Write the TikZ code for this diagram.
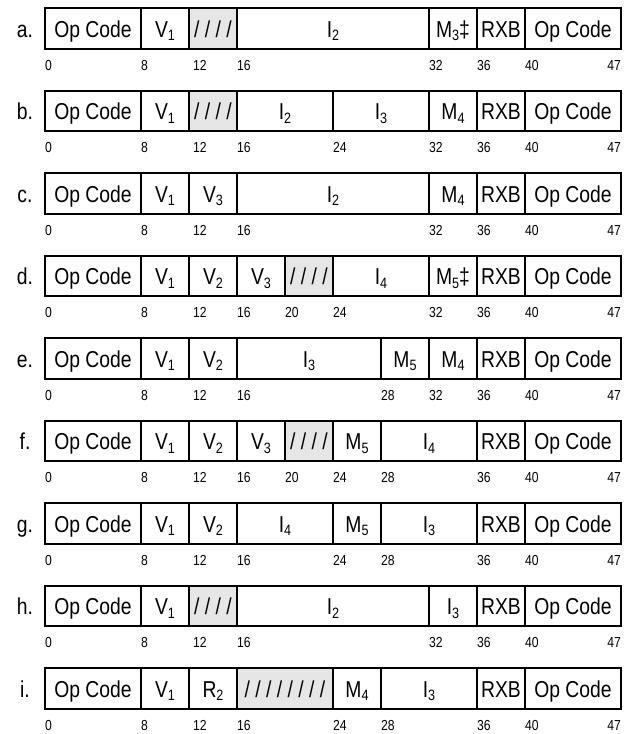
\documentclass[tikz,border=0pt]{standalone}
\usepackage{fontspec}
\setmainfont{Liberation Sans}[FakeStretch=0.84]
\newcommand\sbs[1]{\raisebox{-3.5pt}{\fontsize{15}{15}\selectfont #1}}
\definecolor{hatch}{HTML}{E6E6E6}
\tikzset{
  cellbox/.style={draw=black, line width=2pt, inner sep=0pt, outer sep=0pt, minimum height=40.3pt},
  lbl/.style={inner sep=0pt, font=\fontsize{23}{23}\selectfont, anchor=base},
  lettr/.style={inner sep=0pt, font=\fontsize{23}{23}\selectfont, anchor=base},
  bitnum/.style={inner sep=0pt, font=\fontsize{14.5}{14.5}\selectfont, anchor=base west},
}
\newcommand\bitrow[4]{%
  \pgfmathsetmacro\rtop{8.4+82.5*#1}%
  \node[lettr] (L#1) at (25,{\rtop+28.6}) {#2};
  \foreach \s/\e/\t/\f in {#3} {
    \node[cellbox, fill=\f, minimum width={(\e-\s)*12pt}] (c#1-\s) at ({45+(\s+\e)*6},{\rtop+20.15}) {};
    \node[lbl] (t#1-\s) at ({45+(\s+\e)*6},{\rtop+28.6}) {\t};
  }
  \foreach \n in {#4} {
    \pgfmathsetmacro\nx{45+\n*12+(\n==12)*4}
    \node[bitnum] (n#1-\n) at (\nx,{\rtop+40.3+21.5}) {\n};
  }
  \node[bitnum, anchor=base east] (n#1-47) at (621,{\rtop+40.3+21.5}) {47};
}
\begin{document}
\begin{tikzpicture}[x=1pt,y=-1pt]
\useasboundingbox (0,0) rectangle (635,734);
\bitrow{0}{a.}{0/8/Op Code/white, 8/12/{V\sbs{1}}/white, 12/16/{/ / / /}/hatch, 16/32/{I\sbs{2}}/white, 32/36/{M\sbs{3}‡}/white, 36/40/RXB/white, 40/48/Op Code/white}{0,8,12,16,32,36,40}
\bitrow{1}{b.}{0/8/Op Code/white, 8/12/{V\sbs{1}}/white, 12/16/{/ / / /}/hatch, 16/24/{I\sbs{2}}/white, 24/32/{I\sbs{3}}/white, 32/36/{M\sbs{4}}/white, 36/40/RXB/white, 40/48/Op Code/white}{0,8,12,16,24,32,36,40}
\bitrow{2}{c.}{0/8/Op Code/white, 8/12/{V\sbs{1}}/white, 12/16/{V\sbs{3}}/white, 16/32/{I\sbs{2}}/white, 32/36/{M\sbs{4}}/white, 36/40/RXB/white, 40/48/Op Code/white}{0,8,12,16,32,36,40}
\bitrow{3}{d.}{0/8/Op Code/white, 8/12/{V\sbs{1}}/white, 12/16/{V\sbs{2}}/white, 16/20/{V\sbs{3}}/white, 20/24/{/ / / /}/hatch, 24/32/{I\sbs{4}}/white, 32/36/{M\sbs{5}‡}/white, 36/40/RXB/white, 40/48/Op Code/white}{0,8,12,16,20,24,32,36,40}
\bitrow{4}{e.}{0/8/Op Code/white, 8/12/{V\sbs{1}}/white, 12/16/{V\sbs{2}}/white, 16/28/{I\sbs{3}}/white, 28/32/{M\sbs{5}}/white, 32/36/{M\sbs{4}}/white, 36/40/RXB/white, 40/48/Op Code/white}{0,8,12,16,28,32,36,40}
\bitrow{5}{f.}{0/8/Op Code/white, 8/12/{V\sbs{1}}/white, 12/16/{V\sbs{2}}/white, 16/20/{V\sbs{3}}/white, 20/24/{/ / / /}/hatch, 24/28/{M\sbs{5}}/white, 28/36/{I\sbs{4}}/white, 36/40/RXB/white, 40/48/Op Code/white}{0,8,12,16,20,24,28,36,40}
\bitrow{6}{g.}{0/8/Op Code/white, 8/12/{V\sbs{1}}/white, 12/16/{V\sbs{2}}/white, 16/24/{I\sbs{4}}/white, 24/28/{M\sbs{5}}/white, 28/36/{I\sbs{3}}/white, 36/40/RXB/white, 40/48/Op Code/white}{0,8,12,16,24,28,36,40}
\bitrow{7}{h.}{0/8/Op Code/white, 8/12/{V\sbs{1}}/white, 12/16/{/ / / /}/hatch, 16/32/{I\sbs{2}}/white, 32/36/{I\sbs{3}}/white, 36/40/RXB/white, 40/48/Op Code/white}{0,8,12,16,32,36,40}
\bitrow{8}{i.}{0/8/Op Code/white, 8/12/{V\sbs{1}}/white, 12/16/{R\sbs{2}}/white, 16/24/{/ / / / / / / /}/hatch, 24/28/{M\sbs{4}}/white, 28/36/{I\sbs{3}}/white, 36/40/RXB/white, 40/48/Op Code/white}{0,8,12,16,24,28,36,40}
\end{tikzpicture}
\end{document}
